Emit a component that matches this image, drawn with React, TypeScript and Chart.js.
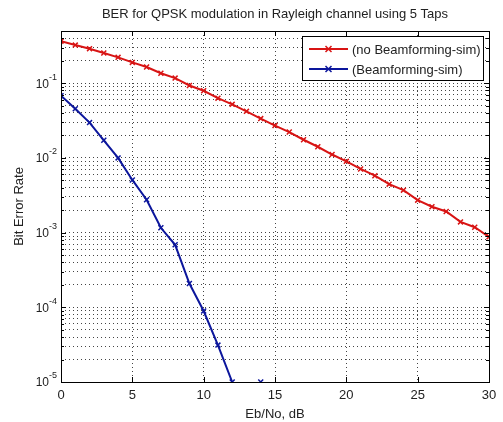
import React, { useEffect, useRef } from 'react';
import { Chart, registerables } from 'chart.js';

Chart.register(...registerables);

const chartTitle = 'BER for QPSK modulation in Rayleigh channel using 5 Taps';
const xAxisTitle = 'Eb/No, dB';
const yAxisTitle = 'Bit Error Rate';

const ebNoDb = [0, 1, 2, 3, 4, 5, 6, 7, 8, 9, 10, 11, 12, 13, 14, 15, 16, 17, 18, 19, 20, 21, 22, 23, 24, 25, 26, 27, 28, 29, 30];

const noBeamformingLabel = '(no Beamforming-sim)';
const noBeamforming = [
  0.366, 0.324, 0.29, 0.254, 0.222, 0.19, 0.165, 0.136, 0.117, 0.0932,
  0.0792, 0.0631, 0.0521, 0.042, 0.0336, 0.0271, 0.0222, 0.0175, 0.0141, 0.0111,
  0.009, 0.00711, 0.00578, 0.00445, 0.0037, 0.00272, 0.00222, 0.00192, 0.00139, 0.00118,
  0.000877,
];

const beamformingLabel = '(Beamforming-sim)';
const beamforming: (number | null)[] = [
  0.0679, 0.0456, 0.0297, 0.0172, 0.01, 0.00507, 0.00275, 0.00116, 0.000687, 0.000208,
  0.0000891, 0.0000312, 0.00001, null, 0.00001, null, null, null, null, null,
  null, null, null, null, null, null, null, null, null, null,
  null,
];

const xTicks = [0, 5, 10, 15, 20, 25, 30];
const yMin = 1e-5;
const yMax = 0.5;
const yDecades = [-5, -4, -3, -2, -1];
const yMultipliers = [1, 2, 3, 4, 5, 6, 7, 8, 9];

const RED = '#d81414';
const BLUE = '#0c169c';
const FONT = '"Liberation Sans", Arial, sans-serif';
const TEXT = '#222';
const GRID = '#444';

function drawCross(ctx: CanvasRenderingContext2D, x: number, y: number, r: number) {
  ctx.beginPath();
  ctx.moveTo(x - r, y - r);
  ctx.lineTo(x + r, y + r);
  ctx.moveTo(x - r, y + r);
  ctx.lineTo(x + r, y - r);
  ctx.stroke();
}

const decorPlugin = {
  id: 'decor',
  afterDraw(chart: any) {
    const { ctx, chartArea: a, scales } = chart;
    ctx.save();
    // frame
    ctx.strokeStyle = '#000';
    ctx.lineWidth = 1;
    ctx.strokeRect(Math.round(a.left) + 0.5, Math.round(a.top) + 0.5, Math.round(a.right - a.left), Math.round(a.bottom - a.top));
    // inner ticks
    ctx.beginPath();
    for (const v of xTicks) {
      const px = Math.round(scales.x.getPixelForValue(v)) + 0.5;
      ctx.moveTo(px, a.bottom); ctx.lineTo(px, a.bottom - 5);
      ctx.moveTo(px, a.top); ctx.lineTo(px, a.top + 5);
    }
    for (const d of yDecades) {
      for (const m of yMultipliers) {
        const v = m * Math.pow(10, d);
        if (v > yMax) continue;
        const py = Math.round(scales.y.getPixelForValue(v)) + 0.5;
        const len = m === 1 ? 5 : 3;
        ctx.moveTo(a.left, py); ctx.lineTo(a.left + len, py);
        ctx.moveTo(a.right, py); ctx.lineTo(a.right - len, py);
      }
    }
    ctx.stroke();
    // y tick labels: 10 with superscript exponent
    ctx.fillStyle = TEXT;
    ctx.textBaseline = 'middle';
    for (const d of yDecades) {
      const py = scales.y.getPixelForValue(Math.pow(10, d));
      const exp = String(d);
      ctx.font = `9px ${FONT}`;
      const ew = ctx.measureText(exp).width;
      ctx.textAlign = 'left';
      const ex = a.left - 4 - ew;
      ctx.fillText(exp, ex, py - 6);
      ctx.font = `12px ${FONT}`;
      ctx.textAlign = 'right';
      ctx.fillText('10', ex, py + 1);
    }
    // title
    ctx.fillStyle = TEXT;
    ctx.font = `13px ${FONT}`;
    ctx.textAlign = 'center';
    ctx.textBaseline = 'middle';
    ctx.fillText(chartTitle, (a.left + a.right) / 2, 14);
    // legend
    const lx = 302, ly = 36, lw = 181, lh = 44;
    ctx.fillStyle = '#fff';
    ctx.fillRect(lx, ly, lw, lh);
    ctx.strokeStyle = '#000';
    ctx.lineWidth = 1;
    ctx.strokeRect(lx + 0.5, ly + 0.5, lw, lh);
    ctx.font = `13px ${FONT}`;
    ctx.textAlign = 'left';
    chart.data.datasets.forEach((ds: any, i: number) => {
      const y = ly + 13 + i * 20;
      ctx.strokeStyle = ds.borderColor;
      ctx.lineWidth = 2;
      ctx.beginPath();
      ctx.moveTo(lx + 7, y); ctx.lineTo(lx + 46, y);
      ctx.stroke();
      ctx.lineWidth = 1.5;
      drawCross(ctx, lx + 26.5, y, 3);
      ctx.fillStyle = TEXT;
      ctx.fillText(ds.label, lx + 50, y + 1);
    });
    ctx.restore();
  },
};

export default function App() {
  const ref = useRef<HTMLCanvasElement>(null);
  useEffect(() => {
    const canvas = ref.current!;
    Chart.defaults.font.family = FONT;
    const chart = new Chart(canvas, {
      type: 'line',
      data: {
        datasets: [
          {
            label: noBeamformingLabel,
            data: ebNoDb.map((x, i) => ({ x, y: noBeamforming[i] })),
            borderColor: RED,
            backgroundColor: RED,
            borderWidth: 2,
            pointStyle: 'crossRot',
            pointRadius: 3.5,
            pointBorderWidth: 1.5,
            tension: 0,
          },
          {
            label: beamformingLabel,
            data: ebNoDb.map((x, i) => ({ x, y: beamforming[i] })),
            borderColor: BLUE,
            backgroundColor: BLUE,
            borderWidth: 2,
            pointStyle: 'crossRot',
            pointRadius: 3.5,
            pointBorderWidth: 1.5,
            tension: 0,
            spanGaps: false,
          },
        ],
      } as any,
      options: {
        responsive: false,
        animation: false,
        layout: { padding: { top: 31, right: 14, left: 0, bottom: 0 } },
        plugins: { legend: { display: false }, title: { display: false }, tooltip: { enabled: false } },
        scales: {
          x: {
            type: 'linear',
            min: 0,
            max: 30,
            afterBuildTicks: (s: any) => { s.ticks = xTicks.map((v) => ({ value: v })); },
            afterFit: (s: any) => { s.height = 40; },
            grid: { color: GRID, lineWidth: 1, drawTicks: false },
            border: { display: false, dash: [1, 3] },
            ticks: { padding: 6, color: TEXT, font: { size: 13 }, autoSkip: false, maxRotation: 0 },
            title: { display: true, text: xAxisTitle, color: TEXT, font: { size: 13 }, padding: { top: 0, bottom: 0 } },
          },
          y: {
            type: 'logarithmic',
            min: yMin,
            max: yMax,
            afterBuildTicks: (s: any) => {
              const t: any[] = [];
              for (const d of yDecades) for (const m of yMultipliers) {
                const v = m * Math.pow(10, d);
                if (v <= yMax) t.push({ value: v, major: m === 1 });
              }
              s.ticks = t;
            },
            afterFit: (s: any) => { s.width = 61; },
            grid: { color: GRID, lineWidth: 1, drawTicks: false },
            border: { display: false, dash: [1, 3] },
            ticks: { display: false },
            title: { display: true, text: yAxisTitle, color: TEXT, font: { size: 13 }, padding: { top: 12, bottom: 0 } },
          },
        },
      } as any,
      plugins: [decorPlugin],
    });
    return () => chart.destroy();
  }, []);
  return (
    <div style={{ position: 'fixed', left: 0, top: 0, width: 503, height: 422, background: '#fff' }}>
      <canvas ref={ref} width={503} height={422} />
    </div>
  );
}
